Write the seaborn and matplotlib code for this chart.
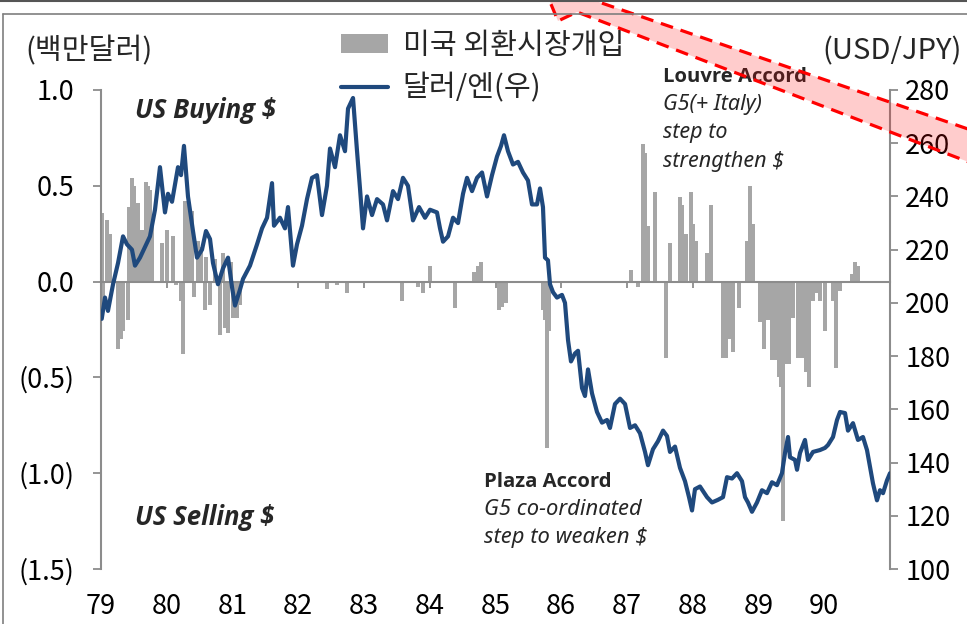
import numpy as np
import pandas as pd
import matplotlib
matplotlib.use("Agg")
import matplotlib.pyplot as plt
import seaborn as sns
from matplotlib.patches import Patch, Polygon
from matplotlib.lines import Line2D

# ---------------- data ----------------
fx_dates = [
    1979.011, 1979.061, 1979.106, 1979.183, 1979.259, 1979.335, 1979.395, 1979.471,
    1979.517, 1979.593, 1979.669, 1979.745, 1979.821, 1979.897, 1979.973, 1980.019,
    1980.080, 1980.171, 1980.217, 1980.262, 1980.323, 1980.399, 1980.460, 1980.536,
    1980.597, 1980.658, 1980.703, 1980.779, 1980.856, 1980.932, 1980.992, 1981.038,
    1981.114, 1981.160, 1981.266, 1981.373, 1981.449, 1981.525, 1981.601, 1981.631,
    1981.722, 1981.798, 1981.844, 1981.920, 1981.981, 1982.057, 1982.133, 1982.209,
    1982.285, 1982.361, 1982.437, 1982.483, 1982.559, 1982.635, 1982.711, 1982.757,
    1982.833, 1982.894, 1982.939, 1982.985, 1983.046, 1983.122, 1983.198, 1983.289,
    1983.350, 1983.441, 1983.517, 1983.593, 1983.669, 1983.745, 1983.837, 1983.928,
    1984.004, 1984.110, 1984.156, 1984.202, 1984.278, 1984.354, 1984.430, 1984.506,
    1984.567, 1984.643, 1984.719, 1984.795, 1984.871, 1984.947, 1985.023, 1985.084,
    1985.129, 1985.190, 1985.266, 1985.342, 1985.418, 1985.494, 1985.555, 1985.631,
    1985.677, 1985.722, 1985.753, 1985.798, 1985.829, 1985.875, 1985.935, 1986.011,
    1986.057, 1986.103, 1986.148, 1986.209, 1986.255, 1986.316, 1986.361, 1986.407,
    1986.468, 1986.544, 1986.620, 1986.696, 1986.741, 1986.817, 1986.894, 1986.970,
    1987.046, 1987.122, 1987.198, 1987.274, 1987.319, 1987.395, 1987.471, 1987.548,
    1987.608, 1987.654, 1987.730, 1987.806, 1987.882, 1987.943, 1987.989, 1988.034,
    1988.110, 1988.217, 1988.293, 1988.384, 1988.460, 1988.521, 1988.597, 1988.673,
    1988.749, 1988.795, 1988.840, 1988.901, 1988.977, 1989.053, 1989.129, 1989.205,
    1989.281, 1989.357, 1989.403, 1989.449, 1989.479, 1989.555, 1989.586, 1989.631,
    1989.707, 1989.753, 1989.829, 1989.935, 1990.011, 1990.057, 1990.133, 1990.194,
    1990.240, 1990.316, 1990.361, 1990.437, 1990.513, 1990.589, 1990.650, 1990.696,
    1990.741, 1990.802, 1990.848, 1990.894, 1990.954, 1991.000,
]
fx_values = [
    194, 202, 197, 207, 215, 225, 222, 220,
    214, 217, 221, 225, 235, 251, 234, 241,
    238, 251, 248, 259, 240, 227, 217, 220,
    227, 224, 215, 207, 213, 217, 206, 199,
    205, 209, 214, 222, 228, 232, 245, 229,
    232, 228, 236, 214, 222, 229, 239, 247,
    248, 233, 244, 258, 251, 263, 257, 273,
    277, 257, 243, 228, 240, 233, 239, 237,
    231, 242, 239, 247, 244, 231, 236, 232,
    235, 234, 228, 223, 225, 232, 230, 241,
    247, 242, 247, 249, 240, 248, 255, 259,
    263, 257, 252, 253, 249, 246, 237, 237,
    243, 236, 217, 216, 207, 204, 202, 203,
    200, 186, 178, 181, 182, 168, 165, 175,
    166, 159, 155, 156, 153, 162, 164, 162,
    153, 154, 151, 144, 139, 145, 148, 152,
    150, 144, 146, 138, 133, 127, 122, 130,
    131, 127, 125, 126, 127, 134.5, 134, 136,
    133, 127, 125, 121.5, 125, 129.6, 128.5, 132.6,
    131.5, 136, 143.6, 149.6, 142, 141, 137.3, 143.6,
    148.5, 141, 144, 144.7, 145.5, 146.6, 149.6, 156,
    159, 158.6, 152, 154.8, 148.5, 149.6, 144.7, 138.3,
    132.2, 125.8, 129.6, 128.5, 133.3, 136,
]

int_dates = [
    1979.015, 1979.030, 1979.091, 1979.137, 1979.259, 1979.304, 1979.335, 1979.411,
    1979.426, 1979.471, 1979.502, 1979.563, 1979.624, 1979.684, 1979.715, 1979.745,
    1979.776, 1979.928, 1980.004, 1980.095, 1980.141, 1980.217, 1980.247, 1980.278,
    1980.323, 1980.384, 1980.414, 1980.475, 1980.521, 1980.582, 1980.597, 1980.658,
    1980.734, 1980.810, 1980.856, 1980.886, 1980.932, 1980.977, 1981.008, 1981.068,
    1981.114,
    1982.437, 1982.589, 1982.741, 1983.578, 1983.821, 1983.897, 1984.004, 1984.384,
    1984.673, 1984.734, 1984.779, 1985.053, 1985.099, 1985.160,
    1985.722, 1985.753, 1985.783, 1985.814,
    1987.061, 1987.167, 1987.243, 1987.274, 1987.319, 1987.426, 1987.593, 1987.654,
    1987.806, 1987.837, 1987.897, 1987.973, 1988.004, 1988.049, 1988.217, 1988.278,
    1988.460, 1988.506, 1988.551, 1988.612, 1988.703, 1988.825, 1988.871, 1988.916,
    1989.023, 1989.084, 1989.144, 1989.205, 1989.266, 1989.312, 1989.342, 1989.373,
    1989.418, 1989.464, 1989.525, 1989.601, 1989.646, 1989.677, 1989.722, 1989.768,
    1989.829, 1989.890, 1989.935, 1990.011, 1990.133, 1990.179, 1990.240,
    1990.422, 1990.468, 1990.513,
]
int_values = [
    0.36, -0.14, 0.32, 0.25, -0.35, -0.30, -0.26, -0.20,
    0.39, 0.54, 0.50, 0.41, 0.27, 0.52, 0.50, 0.48,
    0.34, 0.20, 0.27, 0.24, -0.02, -0.10, -0.38, 0.42,
    0.40, 0.37, -0.08, 0.21, 0.18, -0.15, 0.13, -0.12,
    0.12, -0.28, 0.15, -0.24, -0.27, 0.10, -0.19, -0.19,
    -0.12,
    -0.04, -0.02, -0.06, -0.10, -0.03, -0.06, 0.08, -0.14,
    0.05, 0.08, 0.10, -0.15, -0.13, -0.11,
    -0.15, -0.20, -0.87, -0.26,
    0.06, -0.03, 0.72, 0.67, 0.29, 0.47, -0.40, 0.20,
    0.44, 0.40, 0.25, 0.47, 0.30, 0.21, 0.15, 0.40,
    -0.40, -0.40, -0.30, -0.37, -0.14, 0.21, 0.50, 0.30,
    -0.21, -0.35, -0.20, -0.41, -0.41, -0.50, -0.55, -1.25,
    -0.43, -0.43, -0.19, -0.40, -0.40, -0.40, -0.47, -0.55,
    -0.10, -0.06, -0.10, -0.26, -0.10, -0.45, -0.05,
    0.04, 0.10, 0.08,
]

year_ticks = list(range(1979, 1991))
year_labels = ['79', '80', '81', '82', '83', '84', '85', '86', '87', '88', '89', '90']
left_ticks = [1.0, 0.5, 0.0, -0.5, -1.0, -1.5]
left_labels = ['1.0', '0.5', '0.0', '(0.5)', '(1.0)', '(1.5)']
right_ticks = [100, 120, 140, 160, 180, 200, 220, 240, 260, 280]

legend_bar = '미국 외환시장개입'
legend_line = '달러/엔(우)'
left_unit = '(백만달러)'
right_unit = '(USD/JPY)'

# ---------------- style ----------------
sns.set_theme(style='white')
plt.rcParams['font.family'] = ['Noto Sans CJK KR', 'DejaVu Sans']
EN_IT = ['Noto Sans', 'DejaVu Sans']
EN_BD = ['Open Sans', 'DejaVu Sans']

GRAY_AX = '#8C8C8C'
BAR_C = '#A6A6A6'
LINE_C = '#1F497D'
FS_TICK = 19.5
FS_LAB = 21

W, H = 967, 624
fig = plt.figure(figsize=(W / 100, H / 100), dpi=100)
fig.patch.set_facecolor('white')


def px(x):
    return x / W


def py(y):
    return 1 - y / H


ax = fig.add_axes([px(101), py(569), (890 - 101) / W, (569 - 90) / H])
ax.set_facecolor('none')

# bars (left axis)
ax.bar(int_dates, int_values, width=0.065, color=BAR_C, linewidth=0, zorder=2)

ax2 = ax.twinx()
sns.lineplot(x=fx_dates, y=fx_values, ax=ax2, color=LINE_C, linewidth=3.0, zorder=3)
ax2.set_ylabel('')
ax2.set_xlabel('')

ax.set_xlim(1979, 1991)
ax.set_ylim(-1.5, 1.0)
ax2.set_ylim(100, 280)

# spines
for s in ['top', 'right']:
    ax.spines[s].set_visible(False)
ax.spines['left'].set_color(GRAY_AX)
ax.spines['left'].set_linewidth(1.5)
ax.spines['bottom'].set_position(('data', 0))
ax.spines['bottom'].set_color(GRAY_AX)
ax.spines['bottom'].set_linewidth(1.5)
for s in ['top', 'left', 'bottom']:
    ax2.spines[s].set_visible(False)
ax2.spines['right'].set_color(GRAY_AX)
ax2.spines['right'].set_linewidth(1.5)

ax.grid(False)
ax2.grid(False)

ax.set_yticks(left_ticks, left_labels)
ax.tick_params(axis='y', direction='out', length=6, width=1.3, color=GRAY_AX,
               pad=13, labelsize=FS_TICK, labelcolor='black', left=True)
ax.set_xticks(year_ticks)
ax.tick_params(axis='x', direction='out', length=4.5, width=1.3, color=GRAY_AX,
               labelbottom=False, bottom=True)

sec = ax.secondary_xaxis('bottom')
sec.set_xticks(year_ticks, year_labels)
sec.tick_params(length=0, pad=17, labelsize=FS_TICK, labelcolor='black')
sec.spines['bottom'].set_visible(False)

ax2.set_yticks(right_ticks)
ax2.tick_params(axis='y', direction='out', length=6, width=1.3, color=GRAY_AX,
                pad=5, labelsize=FS_TICK, labelcolor='black', right=True)

# unit labels
fig.text(px(25), py(59), left_unit, fontsize=FS_LAB, va='baseline', ha='left')
fig.text(px(962), py(59), right_unit, fontsize=FS_LAB, va='baseline', ha='right')

# annotations
fig.text(px(135), py(118), 'US Buying $', fontsize=18.5, fontweight='bold',
         fontstyle='italic', family=EN_BD, va='baseline')
fig.text(px(135), py(525), 'US Selling $', fontsize=18.5, fontweight='bold',
         fontstyle='italic', family=EN_BD, va='baseline')

fig.text(px(663), py(82), 'Louvre Accord', fontsize=14.6, fontweight='bold',
         family=EN_BD, va='baseline', zorder=5)
for txt, yb in [('G5(+ Italy)', 110), ('step to', 138), ('strengthen $', 167)]:
    fig.text(px(663), py(yb), txt, fontsize=15.5, fontstyle='italic',
             family=EN_IT, va='baseline', zorder=5)

fig.text(px(484), py(487), 'Plaza Accord', fontsize=14.6, fontweight='bold',
         family=EN_BD, va='baseline')
for txt, yb in [('G5 co-ordinated', 515), ('step to weaken $', 543)]:
    fig.text(px(484), py(yb), txt, fontsize=15.8, fontstyle='italic',
             family=EN_IT, va='baseline')

# legend
handles = [Patch(facecolor=BAR_C, edgecolor='none'),
           Line2D([0], [0], color=LINE_C, linewidth=3)]
fig.legend(handles, [legend_bar, legend_line], loc='upper left',
           bbox_to_anchor=(px(341), py(31)), frameon=False, fontsize=FS_LAB,
           handlelength=1.6, handleheight=0.6, handletextpad=0.52,
           labelspacing=0.42, borderpad=0, borderaxespad=0)

# decorative red dashed block arrow (top right), drawn translucent over the text
arrow_px = [(543, -15), (558, 21), (577, 12), (1000, 174), (1000, 140), (558, -12)]
poly = Polygon([(px(x), py(y)) for x, y in arrow_px], closed=True,
               transform=fig.transFigure, facecolor=(1.0, 0.0, 0.0, 0.2),
               edgecolor='#FF0000', linewidth=2.3, linestyle=(0, (4, 2.5)),
               zorder=10, clip_on=False)
fig.add_artist(poly)

# outer frame lines
fig.add_artist(Line2D([0, 1], [py(0.8), py(0.8)], transform=fig.transFigure,
                      color='#555555', linewidth=1.5, zorder=11))
fig.add_artist(Line2D([px(3), 1], [py(13.5), py(13.5)], transform=fig.transFigure,
                      color='#7F7F7F', linewidth=1.2, zorder=11))
fig.add_artist(Line2D([px(3), px(3)], [py(13.5), 0], transform=fig.transFigure,
                      color='#7F7F7F', linewidth=1.2, zorder=11))

fig.savefig('out.png', dpi=100, facecolor='white')
